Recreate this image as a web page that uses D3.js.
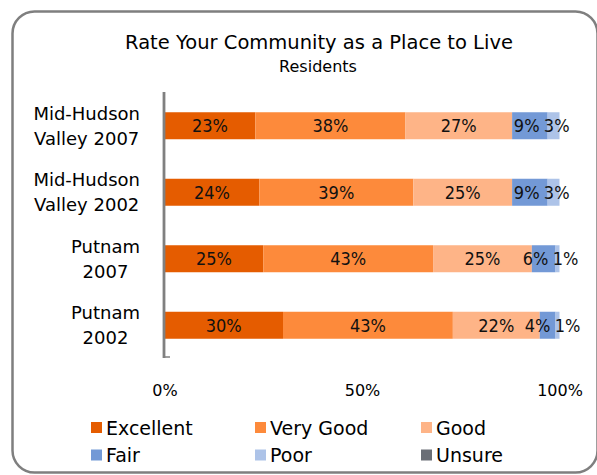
<!DOCTYPE html>
<html>
<head>
<meta charset="utf-8">
<script src="https://cdn.jsdelivr.net/npm/d3@7"></script>
<style>
  html, body { margin: 0; padding: 0; background: #fff; }
  svg { display: block; font-family: "DejaVu Sans", sans-serif; }
</style>
</head>
<body>
<svg id="chart" width="597" height="475"></svg>
<script>
const categories = [
  ["Mid-Hudson", "Valley 2007"],
  ["Mid-Hudson", "Valley 2002"],
  ["Putnam", "2007"],
  ["Putnam", "2002"]
];
const seriesNames = ["Excellent", "Very Good", "Good", "Fair", "Poor", "Unsure"];
const excellent = [23, 24, 25, 30];
const veryGood  = [38, 39, 43, 43];
const good      = [27, 25, 25, 22];
const fair      = [9, 9, 6, 4];
const poor      = [3, 3, 1, 1];
const unsure    = [0, 0, 0, 0];
const tickValues = [0, 50, 100];
const colors = ["#E55C00", "#FD8A3B", "#FEB487", "#7399D6", "#ADC3E8", "#6A6E76"];

const seriesValues = [excellent, veryGood, good, fair, poor, unsure];
const rows = categories.map((c, i) => {
  const r = { key: i };
  seriesNames.forEach((s, j) => r[s] = seriesValues[j][i]);
  return r;
});

const svg = d3.select("#chart");

// frame
svg.append("rect")
  .attr("x", 12.5).attr("y", 11.5)
  .attr("width", 585).attr("height", 461)
  .attr("rx", 22).attr("ry", 22)
  .attr("fill", "#fff").attr("stroke", "#7F7F7F").attr("stroke-width", 2.5);

// titles
svg.append("text").attr("x", 319).attr("y", 48.5)
  .attr("text-anchor", "middle").attr("font-size", 19.5).attr("fill", "#000")
  .text("Rate Your Community as a Place to Live");
svg.append("text").attr("x", 318).attr("y", 72)
  .attr("text-anchor", "middle").attr("font-size", 16).attr("fill", "#000")
  .text("Residents");

const x = d3.scaleLinear().domain([0, 100]).range([164.5, 559.5]);
const y = d3.scaleBand().domain(d3.range(categories.length)).range([92.5, 358.5]).paddingInner(0.594).paddingOuter(0.297);

const stack = d3.stack().keys(seriesNames);
const stacked = stack(rows);

const g = svg.append("g");
stacked.forEach((layer, j) => {
  g.selectAll(null).data(layer).enter().append("rect")
    .attr("x", d => x(d[0]))
    .attr("y", (d, i) => y(i))
    .attr("width", d => x(d[1]) - x(d[0]))
    .attr("height", y.bandwidth())
    .attr("fill", colors[j]);
});

// labels with simple collision avoidance
const minSep = 30;
categories.forEach((c, i) => {
  const labs = [];
  stacked.forEach((layer, j) => {
    const d = layer[i];
    const v = d[1] - d[0];
    if (v > 0) labs.push({ v, cx: (x(d[0]) + x(d[1])) / 2 });
  });
  for (let k = 1; k < labs.length; k++) {
    const gap = labs[k].cx - labs[k - 1].cx;
    if (gap < minSep) {
      const push = (minSep - gap) / 2;
      labs[k - 1].cx -= push;
      labs[k].cx += push;
    }
  }
  labs.forEach(l => {
    g.append("text").attr("x", l.cx).attr("y", y(i) + y.bandwidth() / 2 + 6.5)
      .attr("text-anchor", "middle").attr("font-size", 18)
      .attr("font-family", "'DejaVu Sans Condensed', 'DejaVu Sans', sans-serif")
      .attr("fill", "#111")
      .text(l.v + "%");
  });
});

// category axis line
svg.append("line").attr("x1", 164).attr("x2", 164).attr("y1", 92).attr("y2", 358)
  .attr("stroke", "#808080").attr("stroke-width", 2.8);
svg.append("line").attr("x1", 164).attr("x2", 170).attr("y1", 357).attr("y2", 357)
  .attr("stroke", "#808080").attr("stroke-width", 1.5);

// category labels (block right-aligned at x=140, lines centered)
categories.forEach((lines, i) => {
  const cy = y(i) + y.bandwidth() / 2;
  const t = svg.append("text").attr("font-size", 18).attr("fill", "#000").attr("text-anchor", "middle");
  const spans = lines.map((ln, k) => t.append("tspan").attr("y", cy + (k === 0 ? -6 : 19)).text(ln));
  let maxW = 0;
  spans.forEach(s => { maxW = Math.max(maxW, s.node().getComputedTextLength()); });
  spans.forEach(s => s.attr("x", 140 - maxW / 2));
});

// value axis tick labels
const xAxis = d3.axisBottom(x).tickValues(tickValues).tickFormat(d => d + "%").tickSize(0).tickPadding(0);
const ax = svg.append("g").attr("transform", "translate(0,385)").call(xAxis);
ax.select(".domain").remove();
ax.selectAll("text").attr("font-size", 16).attr("fill", "#000").attr("font-family", "DejaVu Sans, sans-serif");

// legend
const legX = [91, 255, 421];
const legY = [427.5, 455];
seriesNames.forEach((s, j) => {
  const lx = legX[j % 3], ly = legY[Math.floor(j / 3)];
  svg.append("rect").attr("x", lx).attr("y", ly - 5.5).attr("width", 11).attr("height", 11).attr("fill", colors[j]);
  svg.append("text").attr("x", lx + 15).attr("y", ly + 7).attr("font-size", 19).attr("fill", "#000").text(s);
});
</script>
</body>
</html>
